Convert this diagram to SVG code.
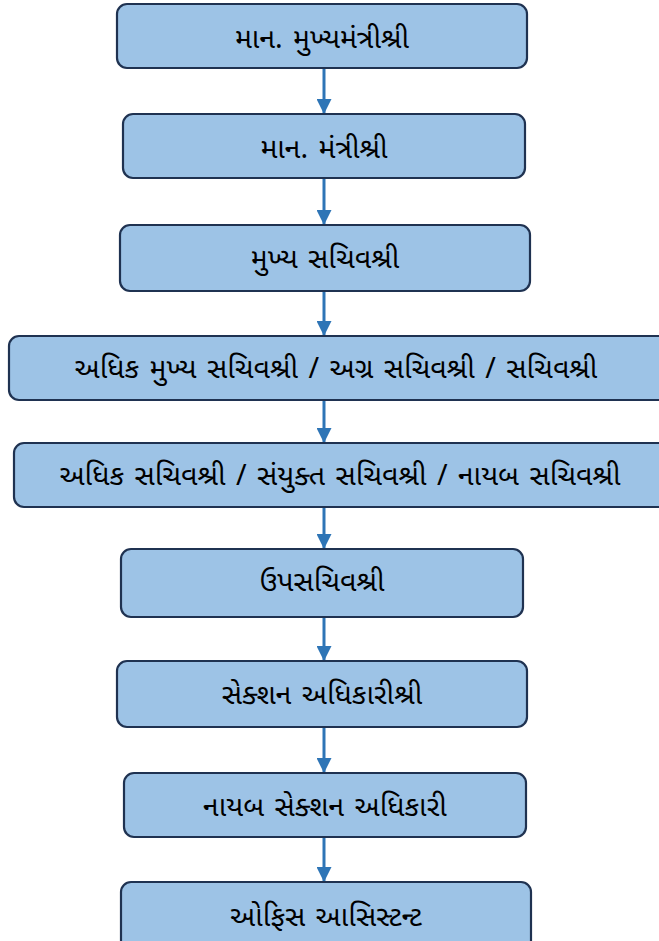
<svg xmlns="http://www.w3.org/2000/svg" width="659" height="941" viewBox="0 0 659 941">
<style>
.box{fill:#9DC3E6;stroke:#1F3251;stroke-width:2.2}
.t{font-family:"Noto Sans Gujarati","Noto Sans","DejaVu Sans",sans-serif;font-size:28.5px;font-weight:400;fill:#000;text-anchor:middle;dominant-baseline:central;word-spacing:3px}
.c{stroke:#2E75B6;stroke-width:3;fill:none;marker-end:url(#ah)}
</style>
<defs>
<marker id="ah" viewBox="0 0 10 10" refX="10" refY="5" markerWidth="5" markerHeight="5" markerUnits="strokeWidth" orient="auto">
<path d="M0,0 L10,5 L0,10 z" fill="#2E75B6"/>
</marker>
</defs>
<rect width="659" height="941" fill="#fff"/>
<g id="connectors">
<line class="c" x1="324" y1="68" x2="324" y2="114"/>
<line class="c" x1="324" y1="178" x2="324" y2="225"/>
<line class="c" x1="324" y1="291" x2="324" y2="336"/>
<line class="c" x1="324" y1="400" x2="324" y2="443"/>
<line class="c" x1="324" y1="507" x2="324" y2="549"/>
<line class="c" x1="324" y1="617" x2="324" y2="661"/>
<line class="c" x1="324" y1="727" x2="324" y2="773"/>
<line class="c" x1="324" y1="837" x2="324" y2="882"/>
</g>
<g id="n1"><rect class="box" x="117" y="4" width="410" height="64" rx="10"/><text class="t" x="322" y="41">માન. મુખ્યમંત્રીશ્રી</text></g>
<g id="n2"><rect class="box" x="123" y="114" width="402" height="64" rx="10"/><text class="t" x="324" y="151">માન. મંત્રીશ્રી</text></g>
<g id="n3"><rect class="box" x="120" y="225" width="410" height="66" rx="10"/><text class="t" x="325" y="261">મુખ્ય સચિવશ્રી</text></g>
<g id="n4"><rect class="box" x="9" y="336" width="660" height="64" rx="10"/><text class="t" x="336" y="371">અધિક મુખ્ય સચિવશ્રી / અગ્ર સચિવશ્રી / સચિવશ્રી</text></g>
<g id="n5"><rect class="box" x="14" y="443" width="655" height="64" rx="10"/><text class="t" x="340" y="478">અધિક સચિવશ્રી / સંયુક્ત સચિવશ્રી / નાયબ સચિવશ્રી</text></g>
<g id="n6"><rect class="box" x="121" y="549" width="402" height="68" rx="10"/><text class="t" x="322" y="584">ઉપસચિવશ્રી</text></g>
<g id="n7"><rect class="box" x="117" y="661" width="410" height="66" rx="10"/><text class="t" x="322" y="697">સેક્શન અધિકારીશ્રી</text></g>
<g id="n8"><rect class="box" x="124" y="773" width="402" height="64" rx="10"/><text class="t" x="325" y="809">નાયબ સેક્શન અધિકારી</text></g>
<g id="n9"><rect class="box" x="121" y="882" width="410" height="70" rx="10"/><text class="t" x="326" y="919">ઓફિસ આસિસ્ટન્ટ</text></g>
</svg>
